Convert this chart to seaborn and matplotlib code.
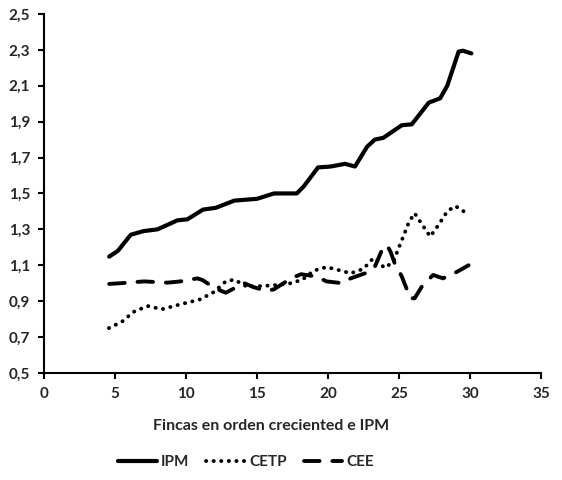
import matplotlib
matplotlib.use("Agg")
import matplotlib.pyplot as plt
import seaborn as sns
import pandas as pd
from matplotlib.lines import Line2D

ipm_x = [4.59, 5.2, 6.11, 7.0, 7.99, 9.39, 10.1, 11.2, 12.1, 13.4, 15.0, 16.2, 17.8, 18.3,
         19.3, 20.2, 21.2, 21.9, 22.75, 23.3, 23.9, 25.2, 25.9, 27.1, 27.9, 28.4, 29.2, 29.5, 30.1]
ipm_y = [1.148, 1.18, 1.27, 1.29, 1.30, 1.35, 1.356, 1.41, 1.42, 1.46, 1.47, 1.50, 1.50, 1.54,
         1.645, 1.65, 1.665, 1.65, 1.76, 1.80, 1.81, 1.88, 1.885, 2.006, 2.03, 2.10, 2.29, 2.295, 2.28]

cetp_x = [4.57, 5.5, 6.3, 7.3, 8.3, 9.5, 11.0, 11.95, 12.8, 13.4, 14.3, 15.5, 16.4, 17.4, 18.2,
          19.0, 19.9, 20.9, 21.6, 22.5, 23.2, 24.0, 24.6, 25.2, 25.7, 26.1, 26.6, 27.2, 27.7,
          28.4, 28.95, 29.4, 29.8]
cetp_y = [0.75, 0.786, 0.84, 0.873, 0.855, 0.88, 0.91, 0.95, 1.01, 1.02, 0.98, 0.985, 0.99, 1.0,
          1.02, 1.07, 1.09, 1.07, 1.055, 1.08, 1.14, 1.085, 1.12, 1.24, 1.34, 1.39, 1.33, 1.26,
          1.315, 1.40, 1.43, 1.41, 1.385]

cee_x = [4.59, 5.4, 7.05, 8.7, 9.6, 10.8, 11.15, 12.1, 12.8, 14.1, 14.8, 15.7, 16.2, 17.4, 18.1,
         19.2, 19.9, 21.0, 21.6, 22.75, 23.3, 23.8, 24.15, 24.4, 24.7, 25.2, 25.8, 26.1, 26.6,
         27.4, 28.1, 29.1, 29.9]
cee_y = [0.996, 1.0, 1.01, 1.003, 1.01, 1.027, 1.018, 0.97, 0.947, 1.0, 0.977, 0.957, 0.966,
         1.027, 1.05, 1.037, 1.01, 1.0, 1.027, 1.059, 1.092, 1.185, 1.213, 1.176, 1.11, 1.037,
         0.916, 0.916, 0.98, 1.046, 1.027, 1.064, 1.10]

series_names = ["IPM", "CETP", "CEE"]
x_ticks = [0, 5, 10, 15, 20, 25, 30, 35]
y_ticks = [0.5, 0.7, 0.9, 1.1, 1.3, 1.5, 1.7, 1.9, 2.1, 2.3, 2.5]
x_label = "Fincas en orden creciented e IPM"

sns.set_style("ticks")
plt.rcParams["font.family"] = ["Lato", "DejaVu Sans"]
plt.rcParams["font.weight"] = "bold"

fig = plt.figure(figsize=(5.62, 4.8), dpi=100)
ax = fig.add_axes([0.0783, 0.223, 0.8843, 0.748])

styles = {
    "IPM": dict(linestyle="-", linewidth=3.0),
    "CETP": dict(linestyle=(0, (0.05, 1.9)), linewidth=2.8, dash_capstyle="round"),
    "CEE": dict(linestyle=(0, (4.0, 3.3)), linewidth=2.8, dash_capstyle="round"),
}

for name, xs, ys in zip(series_names, [ipm_x, cetp_x, cee_x], [ipm_y, cetp_y, cee_y]):
    df = pd.DataFrame({"x": xs, "y": ys})
    sns.lineplot(data=df, x="x", y="y", ax=ax, color="black", sort=False,
                 estimator=None, **styles[name])

ax.set_xlim(0, 35)
ax.set_ylim(0.5, 2.5)
ax.set_xticks(x_ticks)
ax.set_yticks(y_ticks)
ax.set_xticklabels([str(v) for v in x_ticks], fontsize=11, fontweight="bold")
ax.set_yticklabels([f"{v:.1f}".replace(".", ",") for v in y_ticks], fontsize=11, fontweight="bold")
ax.set_xlabel("")
ax.set_ylabel("")
sns.despine(ax=ax)
for s in ["left", "bottom"]:
    ax.spines[s].set_linewidth(1.5)
    ax.spines[s].set_color("black")
ax.tick_params(axis="both", direction="out", length=4, width=1.5, color="black", pad=6)

fig.text(0.483, 1 - 426 / 480, x_label, ha="center", va="center", fontsize=11.5, fontweight="bold")

handles = [Line2D([0], [0], color="black", **styles[n]) for n in series_names]
fig.legend(handles, series_names, loc="center", bbox_to_anchor=(0.438, 1 - 462 / 480), ncol=3,
           frameon=False, handlelength=2.5, columnspacing=1.1, handletextpad=0.3,
           prop={"weight": "bold", "size": 11})

fig.savefig("out.png", dpi=100)
